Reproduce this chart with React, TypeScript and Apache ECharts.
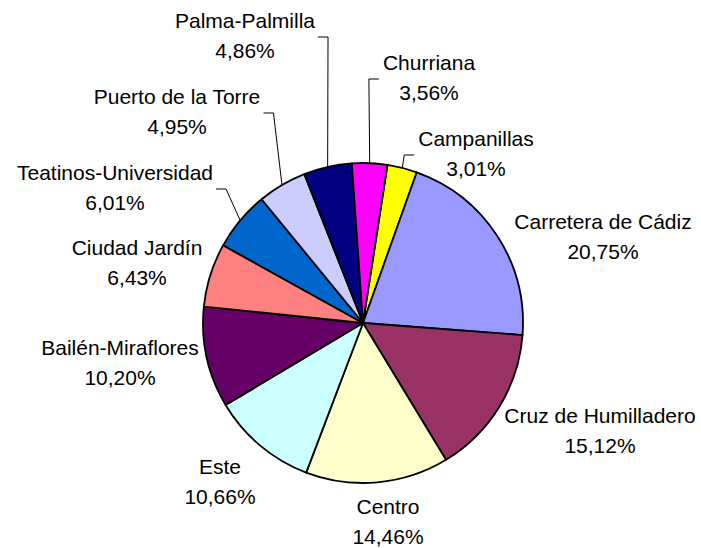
import React, { useEffect, useRef } from 'react';
import * as echarts from 'echarts';

const districts = [
  'Campanillas',
  'Carretera de Cádiz',
  'Cruz de Humilladero',
  'Centro',
  'Este',
  'Bailén-Miraflores',
  'Ciudad Jardín',
  'Teatinos-Universidad',
  'Puerto de la Torre',
  'Palma-Palmilla',
  'Churriana',
];
const shares = [3.01, 20.75, 15.12, 14.46, 10.66, 10.2, 6.43, 6.01, 4.95, 4.86, 3.56];
const sliceColors = [
  '#FFFF00', '#9999FF', '#993366', '#FFFFCC', '#CCFFFF', '#660066',
  '#FF8080', '#0066CC', '#CCCCFF', '#000080', '#FF00FF',
];

// layout of labels (text-block centres) and leader side: +1 leader on label's right, -1 on its left, 0 none
const labelCenters: [number, number][] = [
  [476, 153], [603, 236], [600, 430], [388, 521], [220, 481], [120, 362],
  [137, 262], [115, 187], [177, 111], [245, 35], [429, 77],
];
const leaderSide = [-1, 0, 0, 0, 0, 0, 0, 1, 1, 1, -1];

export default function App() {
  const ref = useRef<HTMLDivElement>(null);
  useEffect(() => {
    if (!ref.current) return;
    const chart = echarts.init(ref.current, undefined, { renderer: 'svg' });
    const fmt = (v: number) => v.toFixed(2).replace('.', ',') + '%';
    chart.setOption({
      animation: false,
      backgroundColor: '#ffffff',
      series: [
        {
          type: 'pie',
          center: [363, 323],
          radius: 160,
          startAngle: 81.2,
          clockwise: true,
          avoidLabelOverlap: false,
          itemStyle: { borderColor: '#000000', borderWidth: 1.8 },
          label: {
            show: true,
            position: 'outside',
            color: '#000000',
            fontFamily: '"Liberation Sans", Arial, sans-serif',
            fontSize: 21,
            lineHeight: 30,
            align: 'center',
            formatter: (p: any) => p.name + '\n' + fmt(p.value),
          },
          labelLine: { show: true, lineStyle: { color: '#000000', width: 1 }, length: 10, length2: 10 },
          labelLayout: (params: any) => {
            const i = params.dataIndex;
            const [cx, cy] = labelCenters[i];
            const w = params.labelRect.width;
            const res: any = { x: cx, y: cy, align: 'center', verticalAlign: 'middle' };
            const side = leaderSide[i];
            if (side !== 0 && params.labelLinePoints) {
              const p0 = params.labelLinePoints[0];
              const ey = cy + 2;
              const ex = side > 0 ? cx + w / 2 + 3 : cx - w / 2 - 4;
              const elx = ex + side * 10;
              res.labelLinePoints = [p0, [elx, ey], [ex, ey]];
            }
            return res;
          },
          data: districts.map((name, i) => ({
            name,
            value: shares[i],
            itemStyle: { color: sliceColors[i] },
            labelLine: { show: leaderSide[i] !== 0 },
          })),
        },
      ],
    });
    return () => chart.dispose();
  }, []);
  return (
    <div
      ref={ref}
      style={{ position: 'fixed', left: 0, top: 0, width: 701, height: 548, background: '#fff' }}
    />
  );
}
